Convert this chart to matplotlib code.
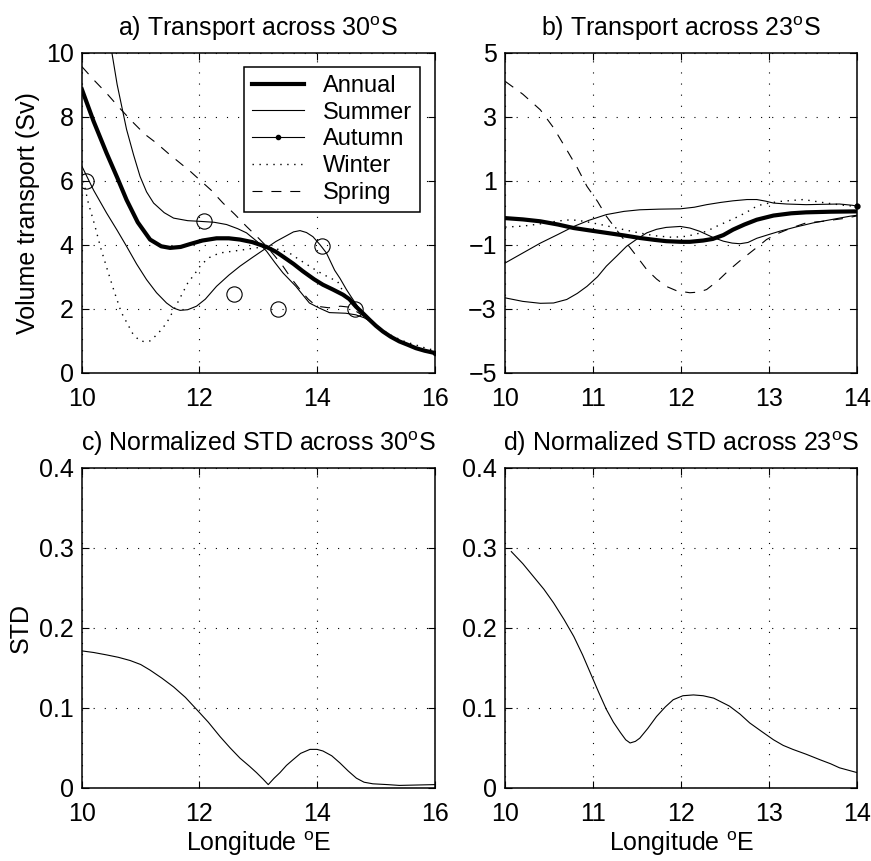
import numpy as np
import matplotlib
matplotlib.use('Agg')
import matplotlib.pyplot as plt

plt.rcParams['font.family'] = ['Liberation Sans', 'DejaVu Sans']
plt.rcParams['mathtext.default'] = 'regular'
plt.rcParams['font.size'] = 18

# ---- a) transport across 30S ----
a_annual_x = [10.0, 10.2, 10.42, 10.6, 10.76, 10.95, 11.16, 11.35, 11.5, 11.68, 11.84, 12.05, 12.29, 12.5, 12.69, 12.9,
              13.14, 13.3, 13.42, 13.6, 13.76, 13.95, 14.1, 14.27, 14.44, 14.55, 14.66, 14.78, 14.89, 15.0, 15.12,
              15.25, 15.4, 15.55, 15.68, 15.83, 16.0]
a_annual_y = [8.85, 7.85, 6.86, 6.1, 5.4, 4.7, 4.16, 3.95, 3.9, 3.93, 4.02, 4.13, 4.2, 4.2, 4.16, 4.08,
              3.93, 3.78, 3.63, 3.4, 3.17, 2.92, 2.75, 2.6, 2.44, 2.3, 2.07, 1.86, 1.66, 1.47, 1.29,
              1.13, 0.98, 0.87, 0.77, 0.69, 0.62]

a_summer_x = [10.45, 10.51, 10.6, 10.76, 10.88, 10.99, 11.1, 11.22, 11.4, 11.56, 11.8, 12.0, 12.25, 12.46, 12.65,
              12.8, 12.98, 13.14, 13.28, 13.42, 13.64, 13.87, 14.04, 14.21, 14.49, 14.66, 14.8, 14.95, 15.12,
              15.25, 15.4, 15.55, 15.68, 15.83, 16.0]
a_summer_y = [10.8, 10.0, 9.0, 7.6, 6.8, 6.13, 5.65, 5.3, 5.0, 4.83, 4.75, 4.73, 4.7, 4.63, 4.5,
              4.37, 4.1, 3.8, 3.45, 3.12, 2.7, 2.18, 2.02, 1.88, 1.86, 1.81, 1.72, 1.56, 1.3,
              1.14, 0.99, 0.88, 0.78, 0.7, 0.63]

a_autumn_x = [10.0, 10.2, 10.42, 10.6, 10.76, 10.93, 11.1, 11.27, 11.44, 11.56, 11.67, 11.8, 11.95, 12.1, 12.29,
              12.5, 12.69, 12.9, 13.14, 13.3, 13.48, 13.6, 13.71, 13.82, 13.93, 14.05, 14.16, 14.3, 14.39, 14.5,
              14.61, 14.72, 14.82, 14.95, 15.12, 15.25, 15.4, 15.55, 15.68, 15.83, 16.0]
a_autumn_y = [6.45, 5.7, 4.99, 4.45, 3.95, 3.4, 2.91, 2.5, 2.18, 2.02, 1.95, 1.97, 2.08, 2.3, 2.7,
              3.05, 3.33, 3.6, 3.9, 4.1, 4.28, 4.4, 4.44, 4.38, 4.25, 4.0, 3.74, 3.2, 2.95, 2.6,
              2.29, 2.0, 1.8, 1.52, 1.3, 1.14, 0.99, 0.88, 0.78, 0.7, 0.63]

a_winter_x = [10.0, 10.11, 10.22, 10.32, 10.43, 10.55, 10.67, 10.86, 10.98, 11.08, 11.17, 11.31, 11.44, 11.62, 11.8,
              11.92, 12.03, 12.17, 12.34, 12.54, 12.74, 12.95, 13.14, 13.35, 13.53, 13.7, 14.01, 14.18, 14.35,
              14.49, 14.65, 14.8, 14.95, 15.12, 15.3, 15.5, 15.68, 15.85, 16.0]
a_winter_y = [6.2, 5.3, 4.6, 3.9, 3.24, 2.54, 1.89, 1.24, 1.0, 0.97, 1.0, 1.26, 1.55, 2.16, 2.8,
              3.09, 3.38, 3.6, 3.74, 3.79, 3.84, 3.9, 3.93, 3.85, 3.74, 3.53, 3.17, 3.0, 2.85,
              2.38, 2.05, 1.85, 1.55, 1.33, 1.13, 0.97, 0.87, 0.77, 0.7]

a_spring_x = [10.0, 10.2, 10.42, 10.65, 10.88, 11.07, 11.27, 11.47, 11.67, 11.85, 12.0, 12.2, 12.4, 12.6, 12.8,
              12.98, 13.14, 13.28, 13.42, 13.56, 13.71, 13.85, 13.99, 14.2, 14.4, 14.55, 14.7, 14.85, 15.0,
              15.12, 15.25, 15.4, 15.55, 15.68, 15.83, 16.0]
a_spring_y = [9.56, 9.15, 8.73, 8.25, 7.8, 7.45, 7.17, 6.85, 6.55, 6.28, 6.03, 5.7, 5.3, 4.95, 4.57,
              4.25, 3.95, 3.65, 3.33, 2.95, 2.6, 2.3, 2.08, 2.03, 2.08, 2.05, 1.88, 1.7, 1.47,
              1.3, 1.14, 0.99, 0.88, 0.78, 0.7, 0.63]

a_obs_x = [10.07, 12.08, 12.59, 13.33, 14.08, 14.65]
a_obs_y = [5.98, 4.73, 2.46, 1.98, 3.97, 1.98]

# ---- b) transport across 23S ----
b_annual_x = [10.0, 10.2, 10.4, 10.6, 10.78, 10.95, 11.15, 11.35, 11.53, 11.7, 11.83, 12.0, 12.1, 12.25, 12.36,
              12.48, 12.59, 12.72, 12.86, 13.05, 13.25, 13.42, 13.7, 14.0]
b_annual_y = [-0.17, -0.21, -0.27, -0.37, -0.48, -0.55, -0.63, -0.71, -0.79, -0.85, -0.89, -0.91, -0.91, -0.87, -0.82,
              -0.7, -0.53, -0.37, -0.22, -0.09, -0.02, 0.01, 0.03, 0.04]

b_summer_x = [10.0, 10.2, 10.4, 10.55, 10.7, 10.82, 10.93, 11.05, 11.15, 11.27, 11.38, 11.5, 11.61, 11.72, 11.83,
              11.99, 12.1, 12.21, 12.36, 12.48, 12.58, 12.67, 12.76, 12.86, 13.0, 13.12, 13.3, 13.5, 13.7,
              13.92, 14.0]
b_summer_y = [-2.66, -2.77, -2.83, -2.82, -2.71, -2.52, -2.3, -2.0, -1.67, -1.35, -1.05, -0.82, -0.63, -0.52, -0.46,
              -0.43, -0.48, -0.58, -0.77, -0.89, -0.95, -0.97, -0.93, -0.8, -0.68, -0.58, -0.45, -0.32, -0.22,
              -0.11, -0.08]

b_autumn_x = [10.0, 10.2, 10.4, 10.6, 10.78, 10.95, 11.15, 11.35, 11.53, 11.75, 11.99, 12.15, 12.29, 12.45, 12.59,
              12.75, 12.86, 12.96, 13.05, 13.2, 13.42, 13.6, 13.8, 13.95, 14.0]
b_autumn_y = [-1.57, -1.26, -0.95, -0.68, -0.43, -0.24, -0.06, 0.04, 0.09, 0.11, 0.12, 0.17, 0.25, 0.32, 0.37,
              0.41, 0.41, 0.36, 0.3, 0.27, 0.25, 0.26, 0.27, 0.23, 0.2]

b_winter_x = [10.0, 10.2, 10.4, 10.6, 10.75, 10.9, 11.1, 11.3, 11.5, 11.7, 11.9, 12.05, 12.14, 12.29, 12.4,
              12.53, 12.65, 12.76, 12.87, 13.0, 13.12, 13.39, 13.65, 13.88, 14.0]
b_winter_y = [-0.45, -0.42, -0.35, -0.26, -0.22, -0.27, -0.38, -0.5, -0.62, -0.72, -0.77, -0.74, -0.69, -0.58, -0.43,
              -0.27, -0.12, 0.04, 0.22, 0.3, 0.35, 0.41, 0.3, 0.22, 0.2]

b_spring_x = [10.0, 10.2, 10.4, 10.55, 10.7, 10.82, 10.93, 11.05, 11.15, 11.27, 11.38, 11.5, 11.61, 11.72, 11.83,
              11.95, 12.1, 12.2, 12.29, 12.42, 12.55, 12.67, 12.78, 12.9, 12.97, 13.1, 13.25, 13.42, 13.61,
              13.88, 14.0]
b_spring_y = [4.1, 3.7, 3.21, 2.65, 1.96, 1.4, 0.82, 0.35, -0.11, -0.55, -0.95, -1.38, -1.78, -2.07, -2.3,
              -2.44, -2.5, -2.48, -2.4, -2.12, -1.78, -1.5, -1.26, -1.0, -0.84, -0.65, -0.48, -0.32, -0.27,
              -0.17, -0.1]

# ---- c) normalized STD across 30S ----
c_x = [10.0, 10.2, 10.42, 10.62, 10.82, 11.0, 11.16, 11.36, 11.56, 11.76, 11.95, 12.15, 12.35, 12.52, 12.69,
       12.85, 12.97, 13.08, 13.17, 13.27, 13.37, 13.48, 13.59, 13.72, 13.88, 14.0, 14.1, 14.25, 14.39, 14.53,
       14.67, 14.8, 14.95, 15.2, 15.4, 15.7, 16.0]
c_std = [0.171, 0.169, 0.166, 0.163, 0.159, 0.154, 0.147, 0.137, 0.126, 0.113, 0.098, 0.082, 0.064, 0.05, 0.037,
         0.027, 0.019, 0.011, 0.004, 0.012, 0.019, 0.028, 0.035, 0.043, 0.048, 0.048, 0.046, 0.04, 0.031, 0.021,
         0.012, 0.007, 0.005, 0.004, 0.003, 0.0035, 0.004]

# ---- d) normalized STD across 23S ----
d_x = [10.07, 10.2, 10.32, 10.44, 10.55, 10.67, 10.78, 10.88, 10.97, 11.06, 11.15, 11.23, 11.31, 11.37, 11.42,
       11.48, 11.53, 11.62, 11.72, 11.82, 11.91, 12.02, 12.14, 12.25, 12.37, 12.46, 12.55, 12.67, 12.78,
       12.92, 13.05, 13.16, 13.27, 13.42, 13.58, 13.7, 13.8, 13.9, 14.0]
d_std = [0.295, 0.28, 0.264, 0.248, 0.231, 0.21, 0.189, 0.166, 0.143, 0.12, 0.098, 0.082, 0.069, 0.06, 0.056,
         0.058, 0.062, 0.074, 0.089, 0.101, 0.11, 0.115, 0.116, 0.115, 0.112, 0.107, 0.102, 0.092, 0.081,
         0.07, 0.06, 0.053, 0.048, 0.042, 0.035, 0.03, 0.025, 0.022, 0.019]

a_xticks = [10, 12, 14, 16]
a_yticks = [0, 2, 4, 6, 8, 10]
b_xticks = [10, 11, 12, 13, 14]
b_yticks = [-5, -3, -1, 1, 3, 5]
b_yticklabels = ['\u22125', '\u22123', '\u22121', '1', '3', '5']
std_yticks = [0, 0.1, 0.2, 0.3, 0.4]
std_yticklabels = ['0', '0.1', '0.2', '0.3', '0.4']

grid_ls = (0, (1, 9))
dots = (0, (1, 4))
dashes = (0, (9, 8))
fs = 18


def estilo(ax):
    ax.tick_params(direction='in', top=True, right=True, length=5, width=0.8, labelsize=fs)
    ax.tick_params(axis='x', pad=10.5)
    ax.tick_params(axis='y', pad=6)
    ax.grid(True, color='black', linestyle=grid_ls, linewidth=0.8)
    for s in ax.spines.values():
        s.set_linewidth(1.1)


fig = plt.figure(figsize=(8.71, 8.61), dpi=100)
ax_a = fig.add_axes([0.094, 0.567, 0.405, 0.372])
ax_b = fig.add_axes([0.580, 0.567, 0.404, 0.372])
ax_c = fig.add_axes([0.094, 0.085, 0.405, 0.372])
ax_d = fig.add_axes([0.580, 0.085, 0.404, 0.372])

# a
l_ann, = ax_a.plot(a_annual_x, a_annual_y, 'k-', lw=3)
l_sum, = ax_a.plot(a_summer_x, a_summer_y, 'k-', lw=0.8)
ax_a.plot(a_autumn_x, a_autumn_y, 'k-', lw=0.8, marker='.', markersize=6, markevery=[-1])
l_win, = ax_a.plot(a_winter_x, a_winter_y, 'k', linestyle=dots, lw=1.0)
l_spr, = ax_a.plot(a_spring_x, a_spring_y, 'k', linestyle=dashes, lw=0.8)
ax_a.plot(a_obs_x, a_obs_y, 'o', mfc='none', mec='black', mew=0.8, markersize=11)
l_aut, = ax_a.plot([], [], 'k-', lw=0.8, marker='.', markersize=6)
leg = ax_a.legend([l_ann, l_sum, l_aut, l_win, l_spr], ['Annual', 'Summer', 'Autumn', 'Winter', 'Spring'],
                  loc='upper right', fontsize=17, fancybox=False, framealpha=1,
                  edgecolor='black', handlelength=2.2, labelspacing=0.2, borderaxespad=0.6,
                  handletextpad=0.8, borderpad=0.35)
leg.get_frame().set_linewidth(1.1)
ax_a.set_xlim(10, 16)
ax_a.set_ylim(0, 10)
ax_a.set_xticks(a_xticks)
ax_a.set_yticks(a_yticks)
ax_a.set_ylabel('Volume transport (Sv)', fontsize=fs)
ax_a.set_title('a) Transport across 30$^{o}$S', fontsize=fs, pad=12)
estilo(ax_a)

# b
ax_b.plot(b_annual_x, b_annual_y, 'k-', lw=3)
ax_b.plot(b_summer_x, b_summer_y, 'k-', lw=0.8)
ax_b.plot(b_autumn_x, b_autumn_y, 'k-', lw=0.8, marker='.', markersize=7, markevery=[-1], clip_on=False)
ax_b.plot(b_winter_x, b_winter_y, 'k', linestyle=dots, lw=1.0)
ax_b.plot(b_spring_x, b_spring_y, 'k', linestyle=dashes, lw=0.8)
ax_b.set_xlim(10, 14)
ax_b.set_ylim(-5, 5)
ax_b.set_xticks(b_xticks)
ax_b.set_yticks(b_yticks)
ax_b.set_yticklabels(b_yticklabels)
ax_b.set_title('b) Transport across 23$^{o}$S', fontsize=fs, pad=12)
estilo(ax_b)

# c
ax_c.plot(c_x, c_std, 'k-', lw=0.8)
ax_c.set_xlim(10, 16)
ax_c.set_ylim(0, 0.4)
ax_c.set_xticks(a_xticks)
ax_c.set_yticks(std_yticks)
ax_c.set_yticklabels(std_yticklabels)
ax_c.set_ylabel('STD', fontsize=fs)
ax_c.set_xlabel('Longitude $^{o}$E', fontsize=fs, labelpad=2)
ax_c.set_title('c) Normalized STD across 30$^{o}$S', fontsize=fs, pad=12)
estilo(ax_c)

# d
ax_d.plot(d_x, d_std, 'k-', lw=0.8)
ax_d.set_xlim(10, 14)
ax_d.set_ylim(0, 0.4)
ax_d.set_xticks(b_xticks)
ax_d.set_yticks(std_yticks)
ax_d.set_yticklabels(std_yticklabels)
ax_d.set_xlabel('Longitude $^{o}$E', fontsize=fs, labelpad=2)
ax_d.set_title('d) Normalized STD across 23$^{o}$S', fontsize=fs, pad=12)
estilo(ax_d)

plt.savefig('out.png', dpi=100)
